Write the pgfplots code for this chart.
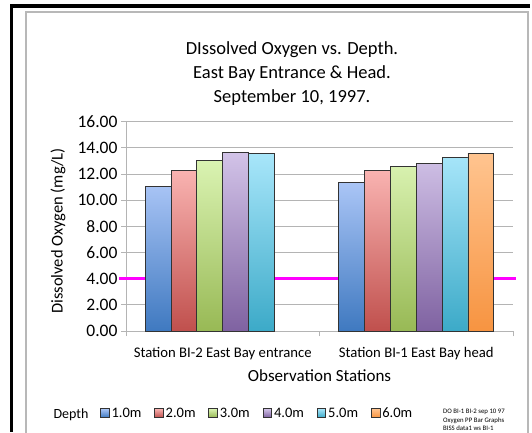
\documentclass[border=0pt]{standalone}
\usepackage{pgfplots}
\pgfplotsset{compat=1.18}
\usepackage{fontspec}
\setmainfont{Carlito}
\definecolor{c1t}{HTML}{AAC5F6}\definecolor{c1b}{HTML}{3F79C0}
\definecolor{c2t}{HTML}{F9B3B1}\definecolor{c2b}{HTML}{C0504D}
\definecolor{c3t}{HTML}{DAF3B2}\definecolor{c3b}{HTML}{98B955}
\definecolor{c4t}{HTML}{D2C3E8}\definecolor{c4b}{HTML}{7F62A1}
\definecolor{c5t}{HTML}{A8E6FA}\definecolor{c5b}{HTML}{3CAAC8}
\definecolor{c6t}{HTML}{FFC48F}\definecolor{c6b}{HTML}{F79441}
\definecolor{gridg}{HTML}{B4B4B4}
\definecolor{mag}{RGB}{255,0,255}
\begin{document}
\begin{tikzpicture}[x=1pt,y=1pt]
\useasboundingbox (0,0) rectangle (532,432);
\fill[white] (0,0) rectangle (532,432);
\fill[black] (10,0) rectangle (13,428);
\fill[black] (10,424) rectangle (530,428);
\draw[black!28, line width=1.4pt] (26,-3) -- (26,420) -- (528,420) -- (528,-3);
% title
\node[anchor=base, font=\fontsize{18.5}{22}\selectfont] at (292,377) {DIssolved Oxygen vs. Depth.};
\node[anchor=base, font=\fontsize{18.5}{22}\selectfont] at (292,353.5) {East Bay Entrance \& Head.};
\node[anchor=base, font=\fontsize{18.5}{22}\selectfont] at (292,330) {September 10, 1997.};
% axis titles
\node[rotate=90, font=\fontsize{16.5}{20}\selectfont] at (58,201) {Dissolved Oxygen (mg/L)};
\node[anchor=base, font=\fontsize{17}{20}\selectfont] at (319.5,51) {Observation Stations};
\node[anchor=base west, font=\fontsize{14}{17}\selectfont] at (50,14) {Depth};
\node[anchor=north west, align=left, inner sep=0pt, font=\fontsize{6.8}{8.6}\selectfont] at (443,23) {DO BI-1 BI-2 sep 10 97\\Oxygen PP Bar Graphs\\BISS data1 ws BI-1};
\begin{axis}[
  at={(126pt,101pt)}, anchor=south west, scale only axis,
  width=387pt, height=209.3pt,
  xmin=-0.5, xmax=1.5, ymin=0, ymax=16,
  clip=false,
  ybar=0pt, bar width=25.85pt,
  axis lines*=left,
  axis line style={draw=gridg, line width=0.9pt},
  ymajorgrids, grid style={draw=gridg, line width=0.9pt},
  tick align=outside, major tick length=5pt,
  tick style={draw=gridg, line width=0.9pt},
  xtick={-0.5,0.5,1.5}, xticklabels={},
  extra x ticks={0,1},
  extra x tick labels={Station BI-2 East Bay entrance,Station BI-1 East Bay head},
  extra x tick style={major tick length=0pt},
  xticklabel style={font=\fontsize{14.7}{17}\selectfont, anchor=base, yshift=-26pt},
  ytick={0,2,...,16},
  /pgf/number format/assume math mode=true,
  yticklabel style={font=\fontsize{17.5}{20}\selectfont,
    /pgf/number format/fixed, /pgf/number format/fixed zerofill,
    /pgf/number format/precision=2},
  legend columns=6,
  legend style={draw=none, fill=none, inner sep=0pt,
    at={(axis description cs:-0.0672,-0.392)}, anchor=west,
    font=\fontsize{14.5}{17}\selectfont,
    /tikz/every even column/.append style={column sep=10.8pt}},
  legend image code/.code={\draw[#1, line width=0.8pt] (0pt,-4.3pt) rectangle (8.6pt,4.3pt);},
]
\addplot[sharp plot, draw=mag, line width=3pt, forget plot] coordinates {(-0.536,4) (1.515,4)};
\addplot[draw=black!80, line width=0.9pt, top color=c1t, bottom color=c1b] coordinates {(0,11.02) (1,11.35)};
\addplot[draw=black!80, line width=0.9pt, top color=c2t, bottom color=c2b] coordinates {(0,12.29) (1,12.27)};
\addplot[draw=black!80, line width=0.9pt, top color=c3t, bottom color=c3b] coordinates {(0,13.05) (1,12.60)};
\addplot[draw=black!80, line width=0.9pt, top color=c4t, bottom color=c4b] coordinates {(0,13.64) (1,12.83)};
\addplot[draw=black!80, line width=0.9pt, top color=c5t, bottom color=c5b] coordinates {(0,13.56) (1,13.24)};
\addplot[draw=black!80, line width=0.9pt, top color=c6t, bottom color=c6b] coordinates {(1,13.54)};
\legend{1.0m,2.0m,3.0m,4.0m,5.0m,6.0m}
\end{axis}
\end{tikzpicture}
\end{document}
